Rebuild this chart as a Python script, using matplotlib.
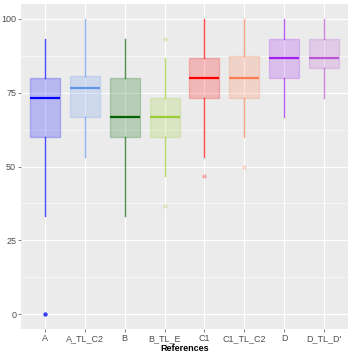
import matplotlib
matplotlib.use("Agg")
import matplotlib.pyplot as plt

plt.rcParams["font.family"] = ["Liberation Sans", "DejaVu Sans"]

# -----------------------
# Data
# -----------------------
references = ["A", "A_TL_C2", "B", "B_TL_E", "C1", "C1_TL_C2", "D", "D_TL_D'"]
whisker_low = [33.3, 53.3, 33.3, 46.7, 53.3, 60.0, 66.7, 73.3]
q1 = [60.0, 66.7, 60.0, 60.0, 73.3, 73.3, 80.0, 83.3]
median = [73.3, 76.7, 66.7, 66.7, 80.0, 80.0, 86.7, 86.7]
q3 = [80.0, 80.8, 80.0, 73.3, 86.7, 87.5, 93.3, 93.3]
whisker_high = [93.3, 100.0, 93.3, 86.7, 100.0, 100.0, 100.0, 100.0]
outliers = [[0, 0, 0, 0], [], [], [93.3, 36.7], [46.7], [50.0], [], []]

colors = ["#0000FF", "#6495ED", "#006400", "#9ACD32",
          "#FF0000", "#FF7F50", "#A020F0", "#BA55D3"]

# -----------------------
# Figure
# -----------------------
fig = plt.figure(figsize=(3.53, 3.53), dpi=100)
ax = fig.add_axes([21 / 353, 24 / 353, 327 / 353, 325 / 353])
ax.set_facecolor("#EBEBEB")
ax.grid(True, which="major", color="white", linewidth=0.8)
ax.grid(True, which="minor", color="white", linewidth=0.4)
ax.set_axisbelow(True)
for s in ax.spines.values():
    s.set_visible(False)

stats = []
for i, name in enumerate(references):
    stats.append({
        "label": name,
        "whislo": whisker_low[i],
        "q1": q1[i],
        "med": median[i],
        "q3": q3[i],
        "whishi": whisker_high[i],
        "fliers": outliers[i],
    })

positions = list(range(1, len(references) + 1))
bp = ax.bxp(stats, positions=positions, widths=0.75, patch_artist=True,
            showcaps=False)

for i, c in enumerate(colors):
    box = bp["boxes"][i]
    box.set_facecolor(matplotlib.colors.to_rgba(c, 0.22))
    box.set_edgecolor(matplotlib.colors.to_rgba(c, 0.22))
    box.set_linewidth(1.0)
    bp["medians"][i].set_color(c)
    bp["medians"][i].set_linewidth(1.6)
    for w in bp["whiskers"][2 * i:2 * i + 2]:
        w.set_color(c)
        w.set_alpha(0.7)
        w.set_linewidth(1.0)
    fl = bp["fliers"][i]
    fl.set_marker("o")
    fl.set_markersize(3)
    fl.set_markerfacecolor(c)
    fl.set_markeredgecolor("none")
    fl.set_alpha(0.3)

ax.set_xlim(0.4, len(references) + 0.6)
ax.set_ylim(-5, 105)
ax.set_yticks([0, 25, 50, 75, 100])
ax.set_yticks([12.5, 37.5, 62.5, 87.5], minor=True)
ax.set_xticks(positions)
ax.set_xticklabels(references)
ax.tick_params(axis="both", which="major", labelsize=6.5, colors="#4D4D4D",
               length=2, width=0.5, pad=1.5)
ax.tick_params(axis="y", which="minor", length=0)
for lab in ax.get_xticklabels() + ax.get_yticklabels():
    lab.set_color("#4D4D4D")

ax.set_xlabel("References", fontsize=6.5, fontweight="bold", labelpad=0.5)

fig.savefig("out.png", dpi=100)
